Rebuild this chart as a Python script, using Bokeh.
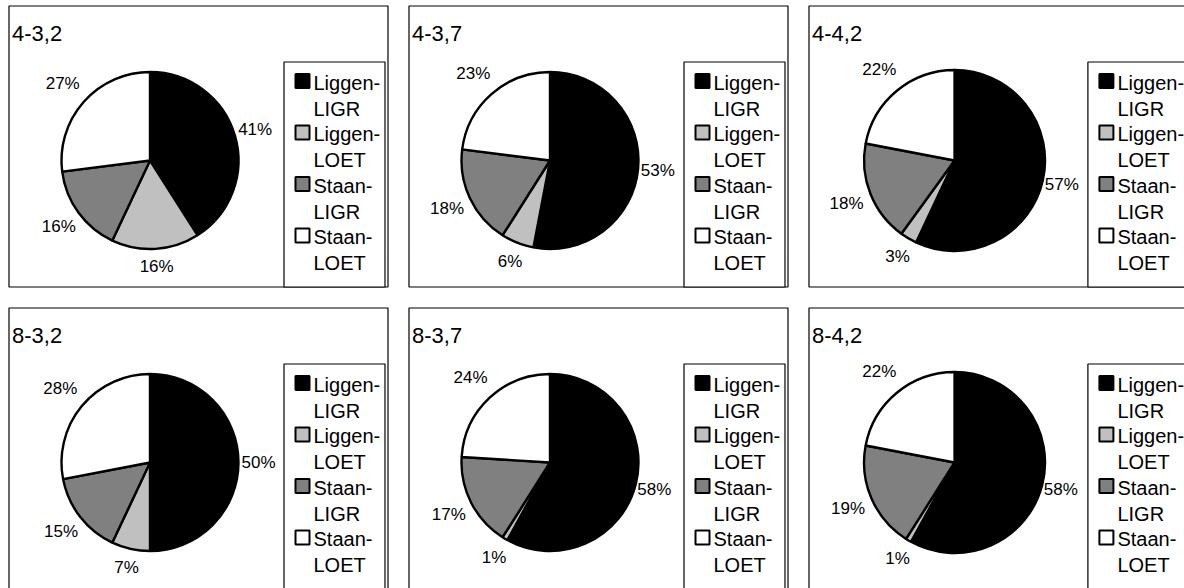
import math

from bokeh.core.properties import value
from bokeh.embed import file_html
from bokeh.models import ColumnDataSource, Range1d
from bokeh.plotting import figure
from bokeh.resources import INLINE

W, H = 1184, 588

# ---- data -------------------------------------------------------------
panel_titles = ["4-3,2", "4-3,7", "4-4,2", "8-3,2", "8-3,7", "8-4,2"]
series_names = ["Liggen-LIGR", "Liggen-LOET", "Staan-LIGR", "Staan-LOET"]
legend_lines = [("Liggen-", "LIGR"), ("Liggen-", "LOET"),
                ("Staan-", "LIGR"), ("Staan-", "LOET")]
liggen_ligr = [41, 53, 57, 50, 58, 58]
liggen_loet = [16, 6, 3, 7, 1, 1]
staan_ligr = [16, 18, 18, 15, 17, 19]
staan_loet = [27, 23, 22, 28, 24, 22]
series_colors = ["#000000", "#c0c0c0", "#808080", "#ffffff"]

# ---- layout (page pixels, measured from the top-left corner) -----------
col_left = [8.5, 408.5, 808.5]
col_width = [379, 379, 392]
row_top = [5.5, 307.5]
row_height = [281, 290]
pie_radius = [88.5, 88.5, 90.5]

FONT = "Liberation Sans"


def fy(y):
    """Convert a top-down pixel row into the figure's y coordinate."""
    return H - y


def label_gap(angle):
    """Distance beyond the rim for a slice label, widened for wide labels."""
    c, s = math.cos(angle), math.sin(angle)
    return 20.8 + 2.9 * abs(c) - 3.65 * c + 3.26 * s


p = figure(width=W, height=H, output_backend="svg", toolbar_location=None,
           x_range=Range1d(0, W), y_range=Range1d(0, H),
           min_border=0, outline_line_color=None,
           x_axis_location=None, y_axis_location=None)
p.grid.visible = False
p.background_fill_color = "white"
p.border_fill_color = "white"

series = [liggen_ligr, liggen_loet, staan_ligr, staan_loet]

for k, title in enumerate(panel_titles):
    row, col = divmod(k, 3)
    left, top = col_left[col], row_top[row]
    w, h = col_width[col], row_height[row]

    # panel frame
    p.quad(left=left, right=left + w, top=fy(top), bottom=fy(top + h),
           fill_color="white", line_color="black", line_width=1.2)

    # panel title
    p.text(x=[left + 3], y=[fy(top + 27)], text=[title],
           text_font=value(FONT), text_font_size="22px",
           text_baseline="middle", text_align="left", text_color="black")

    # pie, starting at 12 o'clock and running clockwise
    vals = [s[k] for s in series]
    total = float(sum(vals))
    cx = left + 141 + (w - 379) * 0.35
    cy = top + 154.5
    r = pie_radius[col]
    starts, ends, mids = [], [], []
    cum = 0.0
    for v in vals:
        a0 = math.pi / 2 - 2 * math.pi * (cum + v) / total
        a1 = math.pi / 2 - 2 * math.pi * cum / total
        starts.append(a0)
        ends.append(a1)
        mids.append((a0 + a1) / 2)
        cum += v
    src = ColumnDataSource(dict(x=[cx] * 4, y=[fy(cy)] * 4, start=starts,
                                end=ends, color=series_colors, name=series_names))
    p.wedge(x="x", y="y", radius=r, start_angle="start", end_angle="end",
            direction="anticlock", fill_color="color", line_color="black",
            line_width=2.4, source=src)

    # percentage labels just outside each slice
    lx, ly, lt = [], [], []
    for v, m in zip(vals, mids):
        d = r + label_gap(m)
        lx.append(cx + d * math.cos(m))
        ly.append(fy(cy) + d * math.sin(m))
        lt.append(f"{round(100 * v / total)}%")
    p.text(x=lx, y=ly, text=lt, text_font=value(FONT),
           text_font_size="17px", text_align="center",
           text_baseline="middle", text_color="black")

    # legend box
    gl = left + 275 + (w - 379) * 0.3
    gt = top + 56
    gr = left + w - 3
    p.quad(left=gl, right=gr, top=fy(gt), bottom=fy(top + h),
           fill_color="white", line_color="black", line_width=1.2)
    sq_x = [gl + 18.5] * 4
    sq_y = [fy(gt + 19 + 51.5 * i) for i in range(4)]
    p.rect(x=sq_x, y=sq_y, width=14, height=14, fill_color=series_colors,
           line_color="black", line_width=2)
    tx, ty, tt = [], [], []
    for i, (l1, l2) in enumerate(legend_lines):
        tx += [gl + 29.5, gl + 29.5]
        ty += [fy(gt + 20.5 + 51.5 * i), fy(gt + 20.5 + 51.5 * i + 26)]
        tt += [l1, l2]
    p.text(x=tx, y=ty, text=tt, text_font=value(FONT),
           text_font_size="20px", text_align="left",
           text_baseline="middle", text_color="black")

open("out.html", "w").write(file_html(p, INLINE))
